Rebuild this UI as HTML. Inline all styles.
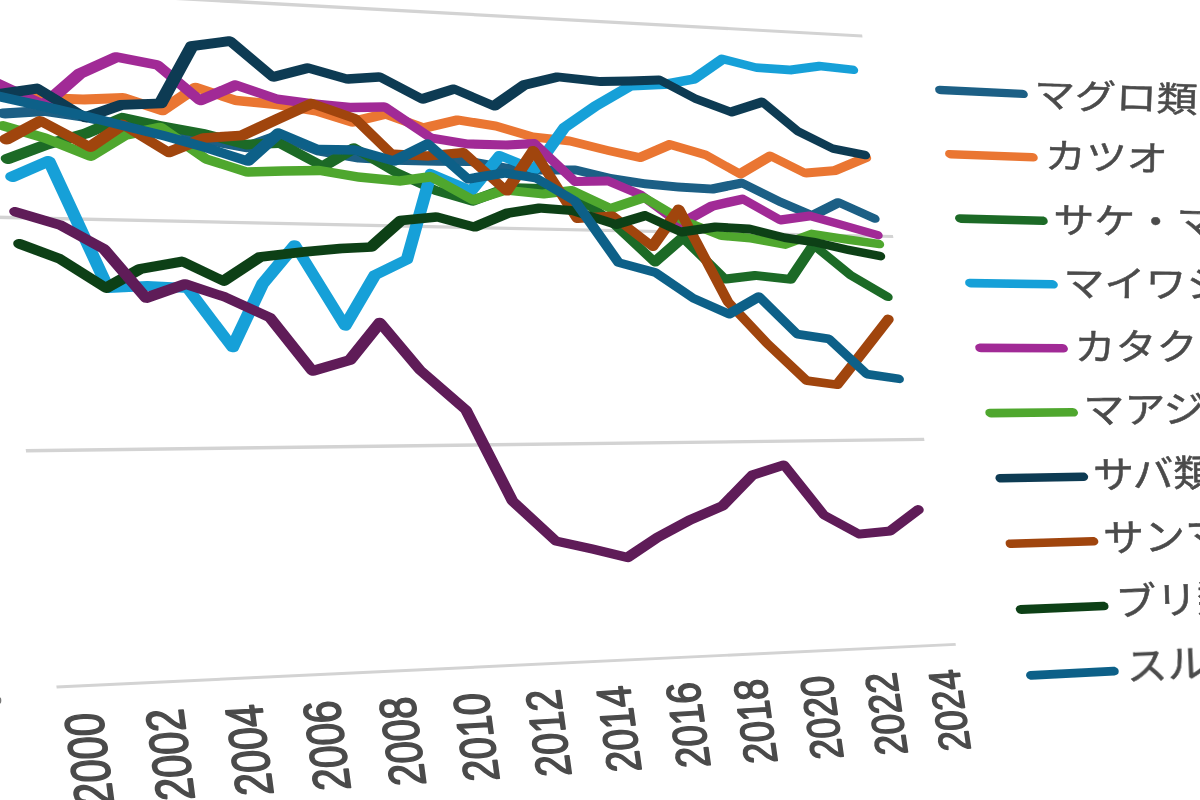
<!DOCTYPE html><html><head><meta charset="utf-8"><title>chart</title><style>
html,body{margin:0;padding:0;background:#fff}body{width:1200px;height:800px;overflow:hidden;position:relative;font-family:"Liberation Sans",sans-serif}
svg{position:absolute;left:0;top:0;display:block}
</style></head><body>
<svg width="1200" height="800" viewBox="0 0 1200 800" role="img" aria-label="line chart">
<title>魚種別の推移 2000–2024</title><desc>凡例: マグロ類, カツオ, サケ・マス類, マイワシ, カタクチイワシ, マアジ, サバ類, サンマ, ブリ類, スルメイカ. 横軸: 2000 2002 2004 2006 2008 2010 2012 2014 2016 2018 2020 2022 2024</desc>
<defs><filter id="b" x="-2%" y="-2%" width="104%" height="104%"><feGaussianBlur stdDeviation="0.6"/></filter></defs><g filter="url(#b)">
<g fill="#d3d3d3">
<path d="M955.9 645.8L955.5 643L56.3 685.4L56.7 688.6Z"/>
<path d="M924.5 441L924 437.8L25.7 448.9L26.1 452.5Z"/>
<path d="M893.4 238.1L892.9 235L-4.6 215.6L-4.1 219.1Z"/>
<path d="M862.5 37.5L862.1 34.4L-34.5 -14.9L-34 -11.4Z"/>
</g>
<path fill="#1a5f85" d="M45 116L84 121.8L123.8 130.7L163.2 138.7L206.1 144.7L244.6 152.1L246.7 152.3L248.7 151.9L279.7 140.8L316.3 155.2L318 155.6L357.5 162.4L358.4 162.5L394.7 164.7L436.7 165.7L470.2 166.1L505.5 172.5L506.5 172.6L540.9 174.6L576 174.6L609.6 182.8L610.3 183L644.8 188.2L678.5 191.5L712.5 193.5L714.1 193.4L741.9 187.8L777.7 205.4L810.7 219.5L812.4 219.9L814.2 219.9L815.7 219.5L839.6 207.5L872.5 222.3L874.1 222.8L875.7 222.8L877.2 222.5L878.5 221.7L879.3 220.7L879.6 219.4L879.5 218.1L878.8 216.7L877.7 215.6L876.3 214.7L840.7 198.7L838.9 198.2L837.1 198.2L835.5 198.6L811.6 210.6L781.6 197.7L744.2 179.3L742.8 178.8L741.4 178.6L739.9 178.7L710.7 184.5L677.7 182.5L644.6 179.3L611.1 174.1L576.9 165.7L575.1 165.4L539.3 165.4L506 163.4L470.5 157L469.2 156.9L435.2 156.3L393.4 155.3L358 153.1L319.8 146.5L281.2 131.3L279.3 130.8L277.4 130.8L275.7 131.1L243.8 142.4L206.9 135.3L164.6 129.3L125.5 121.3L85.1 112.2L44.8 106.2L42.9 106.1L2.2 108.5L0.2 108.9L-1.4 109.7L-2.6 110.9L-3.1 112.4L-2.9 113.9L-2.1 115.4L-0.8 116.7L1 117.7L3.1 118.3L5.2 118.5Z"/>
<path fill="#ea7633" d="M42.6 102.9L84.7 104.4L123.7 102.9L160.2 114.9L161.9 115.3L163.7 115.3L165.4 115L166.7 114.3L198 93.1L234.3 104.9L236.2 105.3L276.5 109.2L315.1 115.5L350.5 126.4L352.6 126.7L354.6 126.5L385.5 119L422.2 132.2L424.4 132.6L426.5 132.5L459.2 124.8L495.2 130.4L531.7 141.3L533.1 141.5L569.6 145.5L607.1 154.8L639.4 161.9L641.4 162L643.2 161.6L671.3 149.4L704.1 159L737.4 177.5L739 178.2L740.7 178.4L742.2 178.3L743.6 177.7L771.5 161.3L802.8 176.7L804.6 177.3L806.4 177.4L836.4 174.9L838 174.5L868.9 161.5L870.1 160.7L870.9 159.6L871.2 158.4L871 157L870.3 155.7L869.2 154.6L867.8 153.7L866.2 153.2L864.5 153.2L863.1 153.5L832.8 166.2L805.4 168.5L772.7 152.3L771.2 151.8L769.7 151.6L768.2 151.7L766.9 152.3L739.2 168.6L708.6 151.5L707.1 150.8L671.1 140.3L669.6 140L668.1 140.1L666.8 140.5L638.5 152.7L608.8 146.2L570.9 136.7L569.9 136.5L533.6 132.5L497.3 121.7L496.2 121.5L458.3 115.5L456.8 115.4L455.5 115.5L423.6 123L386.8 109.8L384.6 109.3L382.4 109.5L351.3 117L317.5 106.6L316.4 106.4L277 99.8L236.8 95.8L197.7 83.1L195.4 82.7L193.2 82.9L191.3 83.7L160 104.8L125.9 93.6L124.3 93.2L122.7 93.1L83 94.6L41.4 93.1L0.4 91L-1.6 91.2L-3.4 91.8L-4.8 92.8L-5.6 94.2L-5.8 95.7L-5.3 97.2L-4.2 98.6L-2.5 99.8L-0.6 100.6L1.6 101Z"/>
<path fill="#1b6a27" d="M49.4 149.3L89.1 138.1L89.9 137.8L124.7 123L160.4 130.7L204 138.6L243.7 149.1L246.3 149.4L278.2 147.9L320 170.3L321.8 171L323.7 171.3L325.6 171.1L327.2 170.4L355.2 153.9L391.5 175.3L392.3 175.7L433.8 194.7L434.9 195.1L471 205.4L473.3 205.7L475.4 205.3L509.6 192.4L542.7 193.1L573.7 200.1L608.2 224.9L650.7 264.7L652.2 265.7L654 266.4L655.9 266.5L657.7 266.2L659.1 265.3L683 244.4L721 281.6L722.6 282.7L724.5 283.4L726.5 283.5L756.3 280L790.6 283.7L792.5 283.6L794.1 283L795.3 281.8L815.2 252.1L847.3 278.2L848.1 278.8L884.9 300.2L886.5 300.8L888.1 301.1L889.7 300.9L891.1 300.3L892.1 299.4L892.6 298.1L892.7 296.8L892.2 295.4L891.3 294.2L890 293.2L853.7 272.1L816.9 242.1L815.6 241.2L814 240.7L812.4 240.6L810.9 240.9L809.7 241.5L808.7 242.4L787.2 274.5L755.5 271.1L754 271.1L726.7 274.2L686.8 234.9L685.3 233.8L683.5 233.2L681.6 233L679.8 233.3L678.4 234.2L654.3 255.2L616.1 219.3L615.5 218.8L579.5 192.8L578.2 192.1L576.8 191.6L543.5 184.1L542 183.9L506.9 183.1L504.5 183.5L471.2 196L438.2 186.6L397.6 168L357.8 144.4L355.9 143.6L353.9 143.3L352 143.4L350.3 144.1L322.1 160.6L282.3 139.2L280.2 138.4L277.9 138.2L245 139.7L205.6 129.3L161.8 121.3L124 113L121.4 112.8L119.1 113.4L82.5 129L42.3 140.2L3.8 154.5L2.2 155.4L1.1 156.6L0.7 158.1L0.9 159.6L1.8 161.1L3.2 162.4L5.1 163.4L7.1 163.9L9.3 163.9L11.2 163.5Z"/>
<path fill="#17a0d8" d="M45.7 168.5L101.7 289.1L102.9 290.7L104.7 292L106.9 292.8L109.2 292.9L148.8 290.9L183.9 292.7L227 349.6L228.3 350.9L230.1 351.8L232.2 352.3L234.2 352.3L236.1 351.8L237.6 350.9L238.6 349.6L268.3 286.5L294.6 255L339.4 327.6L340.6 329L342.3 330L344.2 330.6L346.2 330.8L348.1 330.4L349.6 329.6L350.7 328.4L380 278.5L410.7 263.6L412.1 262.5L412.9 261.1L435.4 180.3L469.3 194.5L471 195L472.6 195.1L474.2 194.9L475.6 194.3L476.6 193.4L502.6 161.4L532.5 173.5L534.1 174L535.8 174.1L537.4 173.8L538.7 173.1L539.7 172.2L569.2 130.7L599.5 109.7L632.7 90.4L664.8 89L665.6 88.9L696.1 83.4L698 82.6L724.6 63.9L755.3 71.7L756.5 71.9L791.5 74.4L792.8 74.3L821 70.4L853.3 74L854.9 74L856.3 73.5L857.4 72.7L858 71.6L858.2 70.3L857.9 68.9L857.1 67.7L855.9 66.6L854.4 65.8L852.7 65.4L819.7 61.7L818.2 61.7L789.8 65.6L756.1 63.2L723.2 54.8L721.5 54.6L719.9 54.8L718.5 55.4L690.8 74.8L661.8 80L628.7 81.5L627.4 81.7L626.2 82.2L591.7 102.2L560.3 123.9L559.4 124.8L531.7 163.5L502 151.5L500 150.9L498 151L496.2 151.5L494.9 152.6L468.9 184.5L433.2 169.5L431.5 169L429.8 168.8L428.1 169.1L426.8 169.7L425.7 170.7L425.1 171.9L401.5 256.3L371.3 270.9L370.2 271.6L369.3 272.6L344.6 314.7L300.6 243.4L299.5 242.1L298 241.1L296.2 240.4L294.2 240.2L292.4 240.4L290.8 241.1L289.6 242.1L257 281.1L256.5 281.9L230.9 336L193.1 286L191.5 284.5L189.5 283.5L187.2 283.1L147.7 281.1L146.8 281.1L112.4 282.8L55.3 160L54.4 158.6L52.9 157.4L51 156.5L48.9 156.1L46.9 156.1L45 156.6L8 172.6L6.5 173.6L5.5 174.9L5.2 176.4L5.5 177.9L6.5 179.4L8 180.6L9.9 181.5L12 181.9L14.1 181.9L16 181.4Z"/>
<path fill="#a12c96" d="M41 109.1L43.3 109.8L45.6 109.9L47.7 109.5L49.4 108.5L84.8 77.5L118.4 62.2L154.6 69.2L195.5 103.4L197.4 104.6L199.6 105.2L201.8 105.3L203.8 104.8L237.2 90.4L275.2 103.3L276.9 103.7L314.2 108.7L351.2 112.2L352.1 112.2L383.5 111.7L427.5 141.3L429 142.1L430.7 142.6L467.7 148.5L468.7 148.6L507.7 149.6L532.6 148.3L570.9 184.1L572.3 185.2L574.1 185.9L576 186.1L607.4 185.6L638.2 198.6L676.6 227.1L678.2 228L680.1 228.5L682 228.4L683.6 227.8L715 210.2L742.7 203.9L777.4 223.5L778.8 224.1L780.2 224.4L781.6 224.4L810.3 220.5L845 230.1L876.5 239.1L878.2 239.4L879.7 239.2L881.1 238.6L882.1 237.7L882.6 236.5L882.7 235.1L882.2 233.8L881.3 232.5L880 231.5L878.5 230.9L846.9 221.9L811 211.8L809.7 211.6L808.4 211.6L780.6 215.3L745.6 195.5L744.1 194.8L742.4 194.6L740.8 194.7L709.8 201.7L708.4 202.2L679.8 218.2L644.5 191.9L643 191.1L610 177.1L608.5 176.6L607 176.5L577 176.9L538.7 140.9L537.1 139.8L535.2 139.1L533.2 138.9L506 140.4L467.8 139.4L433.1 133.7L388.6 103.7L387.1 102.9L385.5 102.5L383.9 102.3L350.3 102.8L314 99.3L278 94.4L237.8 80.7L235.9 80.3L234 80.3L232.2 80.7L200.6 94.3L162 62.1L160.3 61L158.2 60.3L117.2 52.3L114.7 52.2L112.5 52.7L75.9 69.2L74.6 70L41.9 98.6L0 78.9L-2 78.3L-4.1 78L-6.2 78.3L-7.9 79L-9.1 80.1L-9.7 81.5L-9.7 83.1L-9 84.6L-7.8 86L-6 87.1Z"/>
<path fill="#4fa72f" d="M42.9 142.4L87.5 160.3L89.4 160.8L91.3 160.9L93.1 160.6L94.6 160L128.2 139.5L160 132.9L202 162.3L204.3 163.4L245.3 176.4L248.1 176.8L284.1 175.8L320.3 175.3L358.1 181.7L400.1 185.7L401.9 185.6L430.3 181.7L470.1 203.7L471.9 204.4L474 204.7L475.9 204.4L506.5 194.7L543.1 198.6L544.7 198.6L571.6 195.3L608.7 212.4L610.4 212.9L612.2 213L613.8 212.7L644 202.7L679.2 223.5L680.1 224L719 239.6L721.1 240.1L749.9 242.4L784.1 248.8L785.7 248.9L787.3 248.6L813.9 238.6L846.3 243.7L878.9 248.3L880.5 248.3L882 247.9L883.2 247.1L883.9 246L884.2 244.7L884 243.4L883.3 242.1L882.1 241L880.7 240.1L879.1 239.7L846.6 235.1L812.7 229.7L811.2 229.6L809.7 229.9L783.2 239.8L750.5 233.7L749.7 233.6L721.6 231.2L684.4 216.2L646.9 194L645 193.2L643.1 193L641.2 193.3L610.7 203.4L574.3 186.6L572.3 186L570.3 186L542.1 189.4L504.9 185.4L503.5 185.4L502.2 185.7L473.1 194.7L434 173L432.4 172.4L430.8 172.1L429.1 172.1L399 176.2L358.2 172.3L320.5 165.9L319 165.7L282 166.2L247.3 167.2L209 155L165.1 124.2L163 123.2L160.7 122.7L158.4 122.8L121.9 130.3L119.9 131L88.5 150.1L47.5 133.7L46.7 133.4L5.4 121.4L3.3 121L1.2 121.2L-0.6 121.7L-2.1 122.8L-2.9 124.1L-3.1 125.6L-2.6 127.1L-1.6 128.6L0 129.8L2 130.6Z"/>
<path fill="#0e3a52" d="M36.5 93.8L81.2 121.1L83 121.9L84.9 122.3L86.8 122.4L88.5 122L123.5 109.8L161.8 108.3L163.8 108L165.5 107.1L166.6 105.9L196.9 50.4L228.4 46.2L268.7 79.9L270.2 80.9L272.1 81.5L274 81.8L275.8 81.5L308.9 73L345.8 83.4L348.5 83.7L379.2 81.8L419.2 102.7L421.1 103.4L423.1 103.7L425 103.4L454.5 94.1L491.9 110L493.6 110.5L495.3 110.6L496.9 110.3L498.3 109.7L527.5 89.2L559.4 81.6L600.2 86L601.1 86L631.1 85.5L659.3 84.5L692.6 102.1L693.4 102.5L729.5 116L730.9 116.4L732.3 116.4L733.7 116.2L761.9 107.2L794 133.8L795.3 134.7L830.4 152.1L832.1 152.7L864.6 159.2L866.3 159.3L867.8 159L869 158.3L869.8 157.3L870.2 156L870.1 154.7L869.4 153.4L868.4 152.2L867 151.3L865.4 150.8L833.8 144.4L800.4 127.7L766 99.2L764.6 98.3L763 97.7L761.4 97.6L759.8 97.8L730.3 107.2L697 94.7L662.4 76.4L660.7 75.7L658.8 75.5L628.9 76.5L599.3 77L557.8 72.5L555.5 72.6L521.5 80.6L519.7 81.4L492.4 100.5L456.1 85L454.4 84.5L452.7 84.4L451 84.7L421.9 93.7L382.8 73.3L380.7 72.5L378.5 72.3L346.9 74.2L309.3 63.6L307.2 63.3L305.2 63.5L274.1 71.4L234.4 38.1L232.5 37L230.2 36.3L227.9 36.3L189.9 41.3L188.2 41.7L186.9 42.5L186 43.6L155.7 98.8L119.7 100.1L117.5 100.5L85.2 111.7L41.3 84.9L39.4 84L37.3 83.6L35.2 83.7L-5.3 89.6L-7.2 90.2L-8.6 91.1L-9.5 92.4L-9.8 93.9L-9.4 95.5L-8.4 96.9L-6.9 98.1L-4.9 99L-2.8 99.4L-0.7 99.4Z"/>
<path fill="#a0440f" d="M41.3 127.1L86.7 150.9L88.8 151.7L91 151.9L93.1 151.6L94.9 150.8L123.9 131L164.8 156.1L166.6 156.9L168.5 157.3L170.5 157.3L172.2 156.8L206.7 142.7L243.5 140.3L245.9 139.7L281.3 123.2L313.2 108.8L351.6 122.2L387 156.6L388.4 157.6L390.1 158.4L392 158.7L428.5 160.7L429.6 160.6L461.8 157.4L502.3 193.8L503.8 194.8L505.6 195.4L507.5 195.6L509.2 195.4L510.7 194.7L511.8 193.6L533.8 160.5L571.9 220.1L573.1 221.4L574.6 222.4L576.4 223L578.3 223.1L611.6 220.7L648.9 249.6L650.3 250.4L652 250.9L653.6 251L655.2 250.8L656.5 250.1L657.5 249.1L678.6 219.2L723 303.3L723.8 304.4L763.1 346L802.8 383.4L804.5 384.5L806.5 385.1L836.8 389.1L838.7 389.1L840.3 388.5L841.6 387.4L868.5 353.2L893 321.7L893.6 320.5L893.7 319.2L893.3 317.8L892.4 316.6L891.2 315.6L889.6 314.9L888 314.6L886.4 314.8L885 315.3L884 316.3L859.5 347.8L834.1 379.9L809.1 376.6L771 340.7L732.7 300.1L684.1 207.8L683.1 206.5L681.7 205.4L680 204.8L678.3 204.5L676.6 204.7L675.1 205.3L674.1 206.3L650.7 239.3L616.6 213L615.1 212.1L613.4 211.6L611.7 211.5L580 213.6L538.6 149L537.5 147.7L536 146.7L534.3 146.1L532.5 145.9L530.7 146.2L529.3 146.8L528.3 147.9L504.8 183L467.7 149.8L466 148.6L464 148L461.9 147.9L426.9 151.3L394 149.5L359.6 116L358.3 115L356.8 114.3L313.8 99.2L311.9 98.8L310 98.8L308.3 99.3L273.7 114.8L239.2 130.8L202.5 133.2L200.3 133.7L168.5 146.6L126.7 120.9L125.1 120.1L123.2 119.7L121.4 119.6L119.6 120L118.2 120.7L88.7 140.7L43.9 117.1L41.9 116.4L39.8 116.1L37.8 116.2L36 116.9L1.5 135.3L0.1 136.4L-0.7 137.7L-0.8 139.3L-0.3 140.8L0.9 142.2L2.5 143.4L4.5 144.2L6.6 144.5L8.7 144.3L10.5 143.7Z"/>
<path fill="#0f4018" d="M56.7 263.1L102 291.6L104 292.5L106.3 292.9L108.5 292.8L110.4 292.1L143.4 273.6L182 266.7L220.6 285L222.5 285.7L224.5 285.9L226.4 285.6L228 284.8L263.3 261.6L304.6 256.8L342.4 253.2L372.2 251.7L374.2 251.3L375.8 250.4L404.5 225L437.2 221.8L473.3 231.4L474.9 231.6L476.4 231.6L477.8 231.2L510.7 217.4L541.1 212.7L571.4 215L614.6 228.7L616.7 229.1L618.7 228.8L645.7 220.5L678.8 235.8L680.7 236.4L682.7 236.4L717.1 231.5L749.8 233.4L783.2 241.7L783.8 241.9L814.6 246.6L847.1 254L879.6 260.3L881.2 260.4L882.7 260L884 259.3L884.8 258.3L885.2 257L885.1 255.6L884.5 254.3L883.4 253.1L882 252.3L880.4 251.7L848.1 245.5L815.7 238L784.5 233.2L750.9 224.8L749.6 224.6L715.6 222.5L714.3 222.6L681.3 227.3L647.7 211.7L646.1 211.1L644.4 211L642.9 211.2L615.3 219.6L573.4 206.3L571.7 205.9L539.7 203.4L538.1 203.5L506.1 208.4L504.7 208.8L473.2 222L438.2 212.6L435.5 212.3L399.4 215.8L397.6 216.2L396.2 217.1L367.6 242.4L339.5 243.8L301.3 247.3L258.3 252.2L256.8 252.6L255.5 253.2L222.3 275L185.5 257.5L183.8 256.9L182 256.6L180.3 256.7L137.8 264.2L135.7 264.9L105.7 281.7L64 255.4L62.5 254.6L22.5 239.6L20.4 239.1L18.3 239L16.3 239.5L14.7 240.4L13.7 241.6L13.2 243.1L13.4 244.7L14.2 246.2L15.7 247.5L17.5 248.4Z"/>
<path fill="#0c6188" d="M43.3 111.2L83.5 120.6L123.4 130.6L162.7 140.3L202.4 151.5L245.8 165.4L247.6 165.8L249.5 165.7L251.2 165.3L252.6 164.4L281.1 139L315.6 153.6L317.2 154.1L318.8 154.3L354.7 154.7L392.7 165.4L394.5 165.7L396.3 165.6L397.8 165.1L427.6 150.1L463.8 181.8L465.2 182.7L466.7 183.4L468.4 183.6L470 183.6L504.9 177.7L534.3 182.3L570.8 203.8L613.6 264.3L614.6 265.4L615.9 266.2L617.4 266.8L653.2 276.5L689.8 301.3L690.9 301.9L726.9 317.9L728.8 318.4L730.8 318.4L732.6 317.8L758.6 302.8L793.1 336.6L794.7 337.8L796.7 338.4L826.7 343L863 376.7L864.6 377.8L866.4 378.4L898.4 383.1L900.1 383.2L901.5 382.8L902.8 382L903.6 380.9L903.9 379.6L903.8 378.2L903.1 376.9L902 375.8L900.6 374.9L899 374.5L869 370L832.8 336.3L831.2 335.2L829.3 334.6L799.5 330L763 294.1L761.7 293.1L760.1 292.5L758.5 292.2L756.9 292.4L755.5 292.9L728 308.7L695.7 294.4L658.8 269.2L656.6 268.2L622.1 258.9L579.9 199.2L579.1 198.3L578 197.5L539 174.5L537.7 173.9L536.3 173.5L504.3 168.5L502 168.5L469.5 173.9L432.2 141.2L430.8 140.3L429.2 139.6L427.4 139.3L425.7 139.5L424.2 140L392.5 155.8L356.3 145.6L354.2 145.3L318.8 144.8L281.4 128.9L279.4 128.3L277.3 128.3L275.5 128.7L274 129.6L245 155.3L205.8 142.6L165.5 131.2L125.8 121.4L85.8 111.3L45.4 101.8L-1.9 91.3L-4.1 91L-6.1 91.3L-7.8 92L-9.1 93.1L-9.7 94.5L-9.7 96L-9.1 97.6L-7.8 99L-6.1 100.1L-4.1 100.7Z"/>
<path fill="#5f1a59" d="M57.3 229.3L99.3 252.2L140.6 300.3L141.9 301.5L143.6 302.4L145.6 302.8L147.5 302.9L149.3 302.5L186.3 289.4L222.6 301.3L265.6 320.9L307.2 373.2L308.4 374.3L310 375.2L311.7 375.7L313.5 375.8L315.3 375.5L352.7 364.5L354.2 363.8L355.4 362.8L380.5 331.4L415 372.3L415.7 373L460.9 412.3L507 502.4L508.1 503.9L551.7 543.9L553.1 544.9L554.9 545.5L591.3 553.5L626.3 562L628.1 562.2L629.8 561.9L631.4 561.2L661.1 541.3L693.2 524L725.4 510.1L727 509L756.1 478.9L782.2 470.6L819.6 517.2L821.4 518.7L856.4 537.7L858.2 538.4L860.1 538.5L891.1 535.4L892.5 535.1L893.7 534.4L922.2 512.9L923.2 511.9L923.7 510.6L923.7 509.3L923.2 507.9L922.2 506.7L920.9 505.8L919.3 505.2L917.7 505.1L916.1 505.4L914.8 506.1L887.4 526.7L859.9 529.4L827.7 511.9L788.5 462.8L787.1 461.6L785.3 460.8L783.4 460.5L781.6 460.8L750.1 470.7L749 471.2L748.1 472L718.6 502.3L686.6 516.1L654.1 533.6L625.8 552.3L593.6 544.5L559 536.9L517.6 498.8L471.5 408.6L470.3 407L424.7 367.4L385 320.2L383.6 319L381.8 318.1L379.7 317.8L377.7 317.9L376 318.6L374.7 319.7L345.6 356L314.7 365L275.3 315.4L274.2 314.3L272.8 313.4L227.8 292.9L227 292.6L187.5 279.6L185.7 279.2L183.9 279.2L182.2 279.5L147.9 291.6L109.5 246.7L107.5 245.1L63.5 221.1L61.8 220.4L17.8 207.4L15.7 207L13.6 207.1L11.8 207.7L10.3 208.7L9.4 210.1L9.2 211.6L9.6 213.1L10.6 214.6L12.2 215.8L14.2 216.6Z"/>
<g fill="#4b4b4b" stroke="#4b4b4b" stroke-width="1.4" stroke-linejoin="round" font-family="'Liberation Sans', sans-serif">
<text transform="translate(113.9,804.7) rotate(-97.4) skewX(-4.5) scale(1,1.3)" font-size="42">2000</text>
<text transform="translate(194.7,799.6) rotate(-97.48) skewX(-4.5) scale(1,1.29)" font-size="41.6">2002</text>
<text transform="translate(273.6,794.5) rotate(-97.55) skewX(-4.5) scale(1,1.28)" font-size="41.2">2004</text>
<text transform="translate(350.7,789.6) rotate(-97.63) skewX(-4.5) scale(1,1.27)" font-size="40.8">2006</text>
<text transform="translate(425.9,784.8) rotate(-97.7) skewX(-4.5) scale(1,1.26)" font-size="40.3">2008</text>
<text transform="translate(499.5,780.2) rotate(-97.78) skewX(-4.5) scale(1,1.25)" font-size="39.9">2010</text>
<text transform="translate(571.4,775.6) rotate(-97.85) skewX(-4.5) scale(1,1.24)" font-size="39.5">2012</text>
<text transform="translate(641.6,771.1) rotate(-97.93) skewX(-4.5) scale(1,1.23)" font-size="39.1">2014</text>
<text transform="translate(710.4,766.7) rotate(-98) skewX(-4.5) scale(1,1.22)" font-size="38.7">2016</text>
<text transform="translate(777.6,762.4) rotate(-98.08) skewX(-4.5) scale(1,1.21)" font-size="38.3">2018</text>
<text transform="translate(843.4,758.2) rotate(-98.15) skewX(-4.5) scale(1,1.2)" font-size="37.8">2020</text>
<text transform="translate(907.7,754.1) rotate(-98.23) skewX(-4.5) scale(1,1.19)" font-size="37.4">2022</text>
<text transform="translate(970.7,750.1) rotate(-98.3) skewX(-4.5) scale(1,1.18)" font-size="37">2024</text>
</g>
<path fill="#1a5f85" d="M1023.5 98.1L1025 98L1026.3 97.4L1027.2 96.5L1027.7 95.4L1027.8 94.1L1027.3 92.8L1026.4 91.6L1025.2 90.6L1023.7 90L1022.2 89.7L939.6 85.8L938 85.9L936.7 86.5L935.7 87.4L935.2 88.5L935.2 89.8L935.6 91.2L936.5 92.4L937.8 93.4L939.3 94L940.9 94.3Z"/>
<path fill="#ea7633" d="M1033.5 161.4L1035 161.2L1036.2 160.7L1037.2 159.8L1037.7 158.6L1037.7 157.3L1037.3 156L1036.4 154.8L1035.2 153.8L1033.7 153.2L1032.2 152.9L949.5 149.9L948 150.1L946.7 150.6L945.7 151.5L945.2 152.7L945.1 154L945.6 155.4L946.5 156.6L947.8 157.6L949.3 158.2L950.9 158.5Z"/>
<path fill="#1b6a27" d="M1043.5 224.9L1045 224.7L1046.2 224.1L1047.2 223.2L1047.7 222L1047.7 220.7L1047.3 219.4L1046.4 218.2L1045.2 217.3L1043.7 216.6L1042.2 216.4L959.5 214.3L958 214.4L956.7 215L955.7 215.9L955.2 217.1L955.1 218.4L955.6 219.8L956.5 221L957.8 222L959.3 222.6L960.9 222.9Z"/>
<path fill="#17a0d8" d="M1053.5 288.6L1055 288.4L1056.3 287.8L1057.2 286.9L1057.7 285.7L1057.8 284.4L1057.3 283.1L1056.4 281.9L1055.2 280.9L1053.7 280.3L1052.2 280L969.6 278.8L968 279L966.7 279.6L965.8 280.6L965.2 281.8L965.2 283.1L965.6 284.4L966.5 285.6L967.8 286.6L969.3 287.2L970.9 287.5Z"/>
<path fill="#a12c96" d="M1063.6 352.5L1065.1 352.3L1066.4 351.7L1067.3 350.7L1067.8 349.5L1067.8 348.2L1067.4 346.9L1066.5 345.7L1065.3 344.8L1063.8 344.2L1062.3 343.9L979.6 343.6L978.1 343.9L976.8 344.5L975.8 345.4L975.3 346.6L975.3 348L975.7 349.3L976.6 350.5L977.9 351.5L979.4 352.1L981 352.3Z"/>
<path fill="#4fa72f" d="M1073.7 416.6L1075.2 416.4L1076.5 415.8L1077.4 414.8L1077.9 413.6L1077.9 412.3L1077.5 411L1076.6 409.8L1075.4 408.8L1073.9 408.2L1072.4 408L989.7 408.7L988.2 408.9L986.9 409.5L985.9 410.5L985.4 411.7L985.4 413.1L985.8 414.4L986.7 415.6L988 416.6L989.5 417.2L991.1 417.4Z"/>
<path fill="#0e3a52" d="M1083.9 481L1085.3 480.7L1086.6 480.1L1087.5 479.1L1088 477.9L1088.1 476.6L1087.6 475.3L1086.7 474.1L1085.5 473.1L1084.1 472.6L1082.5 472.4L999.9 473.9L998.3 474.2L997 474.8L996.1 475.8L995.5 477L995.5 478.4L996 479.7L996.9 480.9L998.1 481.9L999.6 482.5L1001.2 482.6Z"/>
<path fill="#a0440f" d="M1094 545.5L1095.5 545.3L1096.8 544.6L1097.7 543.6L1098.2 542.4L1098.3 541.1L1097.8 539.8L1096.9 538.6L1095.7 537.7L1094.2 537.1L1092.7 536.9L1010 539.4L1008.5 539.6L1007.2 540.3L1006.2 541.3L1005.7 542.6L1005.7 543.9L1006.1 545.3L1007 546.5L1008.3 547.4L1009.8 548L1011.4 548.1Z"/>
<path fill="#0f4018" d="M1104.2 610.3L1105.7 610.1L1107 609.4L1107.9 608.4L1108.4 607.2L1108.5 605.8L1108 604.5L1107.1 603.3L1105.9 602.4L1104.4 601.8L1102.9 601.7L1020.3 605.1L1018.7 605.4L1017.4 606L1016.5 607.1L1015.9 608.3L1015.9 609.7L1016.3 611L1017.3 612.2L1018.5 613.2L1020 613.7L1021.6 613.9Z"/>
<path fill="#0c6188" d="M1114.5 675.4L1116 675.1L1117.2 674.4L1118.2 673.4L1118.7 672.1L1118.7 670.8L1118.3 669.4L1117.4 668.3L1116.1 667.4L1114.7 666.8L1113.1 666.7L1030.5 671L1029 671.3L1027.7 672L1026.7 673L1026.2 674.3L1026.1 675.7L1026.6 677L1027.5 678.2L1028.8 679.1L1030.3 679.7L1031.9 679.8Z"/>
<g fill="#4b4b4b" stroke="#4b4b4b" stroke-width="0.55" stroke-linejoin="round" font-family="'Liberation Sans', 'Noto Sans CJK JP', sans-serif" font-size="41">
<text transform="translate(1033.5,107) rotate(2) scale(1,0.86)">マグロ類</text>
<text transform="translate(1044.5,168.5) rotate(1.5) scale(1,0.87)">カツオ</text>
<text transform="translate(1053,233) rotate(1) scale(1,0.88)">サケ・マ</text>
<text transform="translate(1063.3,296.5) rotate(0.5) scale(1,0.89)">マイワシ</text>
<text transform="translate(1074.6,359.5) rotate(0) scale(1,0.9)">カタクチ</text>
<text transform="translate(1083.4,423.5) rotate(-0.5) scale(1,0.91)">マアジ</text>
<text transform="translate(1093.3,488.5) rotate(-1) scale(1,0.92)">サバ類</text>
<text transform="translate(1103.5,552) rotate(-1.5) scale(1,0.93)">サンマ</text>
<text transform="translate(1115.7,616) rotate(-2) scale(1,0.94)">ブリ類</text>
<text transform="translate(1127,680.3) rotate(-2.5) scale(1,0.95)">スルメ</text>
</g>
<ellipse cx="-0.5" cy="700.5" rx="1.8" ry="3.2" fill="#777"/>
</g></svg></body></html>
